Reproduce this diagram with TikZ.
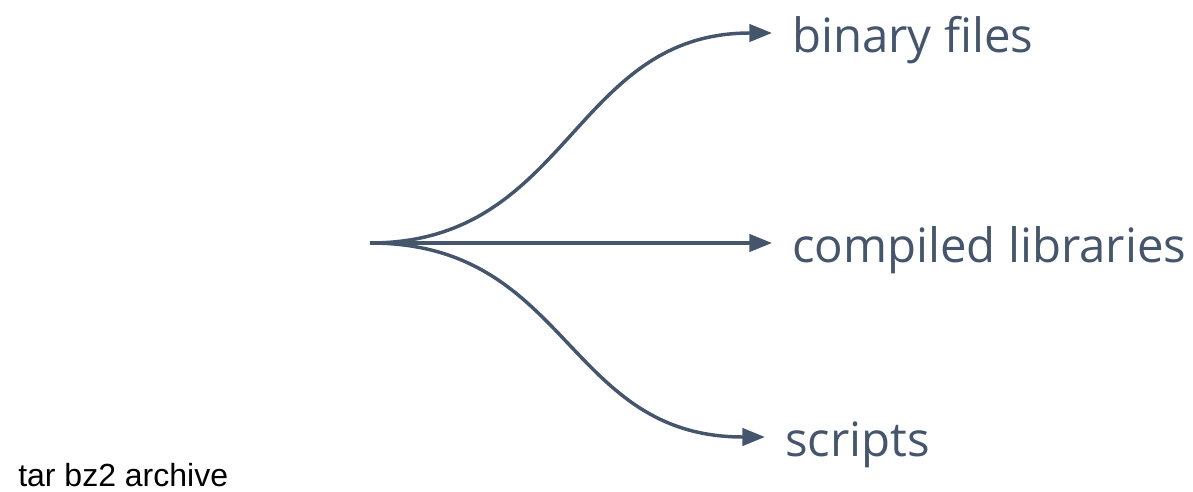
\documentclass[tikz,border=0pt]{standalone}
\usepackage{fontspec}
\setmainfont{Open Sans}
\newfontfamily\archfont{Liberation Sans}
\usetikzlibrary{arrows.meta}
\definecolor{slate}{HTML}{45556B}

\begin{document}
\begin{tikzpicture}[x=0.75pt,y=-0.75pt,>={Triangle[length=17pt,width=13pt]}]
\useasboundingbox (0,0) rectangle (1193,492);
\tikzset{outlbl/.style={anchor=west,inner xsep=15pt,inner ysep=0pt,text height=37pt,text depth=8pt,font=\fontsize{35.5}{42}\selectfont,text=slate},
  branch/.style={->,draw=slate,line width=2.6pt}}
\coordinate (src) at (370,243);
\node[outlbl] (bin) at (772,33) {binary files};
\node[outlbl] (lib) at (772,243) {compiled libraries};
\node[outlbl] (scr) at (765,437) {scripts};
\node[anchor=base west,inner sep=0pt,font=\archfont\fontsize{24}{28}\selectfont] (arch) at (18,486) {tar bz2 archive};
\draw[branch] (src) .. controls (570,243) and (572,33) .. (bin.west);
\draw[branch] (src) -- (lib.west);
\draw[branch] (src) .. controls (570,243) and (565,437) .. (scr.west);
\end{tikzpicture}
\end{document}
